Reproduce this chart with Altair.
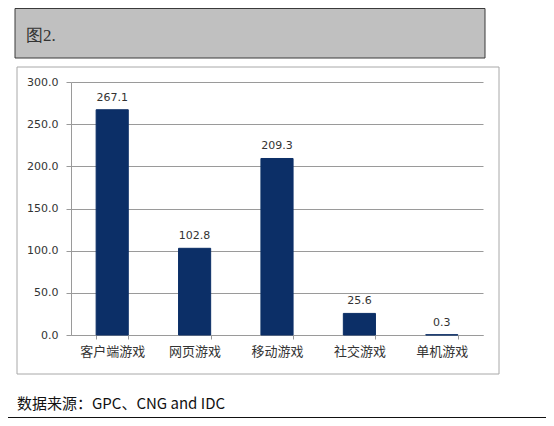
import altair as alt
import pandas as pd

# data
categories = ["客户端游戏", "网页游戏", "移动游戏", "社交游戏", "单机游戏"]
values = [267.1, 102.8, 209.3, 25.6, 0.3]
y_ticks = [0, 50, 100, 150, 200, 250, 300]
header_text = "图2."
source_text = "数据来源：GPC、CNG and IDC"

df = pd.DataFrame({"cat": categories, "val": values})
one = alt.Data(values=[{"k": 0}])

CJK = "Noto Sans CJK SC"
GRID = "#9a9a9a"
NAVY = "#0c2f67"

x_enc = alt.X("cat:N", sort=categories, title=None,
              scale=alt.Scale(paddingInner=0.61, paddingOuter=0.305),
              axis=alt.Axis(labelAngle=0, labelFont=CJK, labelFontSize=13,
                            labelColor="#333333", labelPadding=6,
                            tickBand="extent", tickSize=4, tickColor=GRID,
                            domainColor=GRID, grid=False))
y_enc = alt.Y("val:Q", title=None,
              scale=alt.Scale(domain=[0, 300], nice=False),
              axis=alt.Axis(values=y_ticks, format=".1f", labelFont="DejaVu Sans",
                            labelFontSize=11, labelColor="#333333", labelPadding=8,
                            tickSize=5, tickColor=GRID, domainColor=GRID,
                            gridColor=GRID))

# thin stroke so the 0.3 bar still shows as a line, as in the original
bars = alt.Chart(df).mark_bar(color=NAVY, stroke=NAVY, strokeWidth=1).encode(x=x_enc, y=y_enc)
labels = alt.Chart(df).mark_text(baseline="bottom", dy=-7, font="DejaVu Sans",
                                 fontSize=11, color="#333333").encode(
    x=alt.X("cat:N", sort=categories), y="val:Q", text=alt.Text("val:Q", format=".1f"))

# decorations: grey header box, frame round the chart, source line
header_box = alt.Chart(one).mark_rect(fill="#c0c0c0", stroke="#3a3a3a", strokeWidth=1).encode(
    x=alt.value(-56), x2=alt.value(414), y=alt.value(-73.5), y2=alt.value(-24))
header = alt.Chart(one).mark_text(align="left", baseline="middle",
                                  font="Liberation Serif",
                                  fontSize=17, color="#333333").encode(
    x=alt.value(-45), y=alt.value(-46), text=alt.value(header_text))
frame = alt.Chart(one).mark_rect(fill=None, stroke="#a8a8a8", strokeWidth=1).encode(
    x=alt.value(-54), x2=alt.value(428), y=alt.value(-15), y2=alt.value(292))
source = alt.Chart(one).mark_text(align="left", baseline="middle", font=CJK,
                                  fontSize=15, color="#111111").encode(
    x=alt.value(-54), y=alt.value(322), text=alt.value(source_text))
bottom_line = alt.Chart(one).mark_rule(color="#111111", strokeWidth=1).encode(
    x=alt.value(-63), x2=alt.value(475), y=alt.value(335.5))

chart = alt.layer(header_box, header, frame, bars, labels, source, bottom_line).properties(
    width=412, height=253,
    autosize=alt.AutoSizeParams(type="none"),
    padding={"left": 63, "top": 74, "right": 63, "bottom": 83},
).configure_view(stroke=None)

chart.save("out.html", embed_options={"renderer": "svg", "actions": False})
